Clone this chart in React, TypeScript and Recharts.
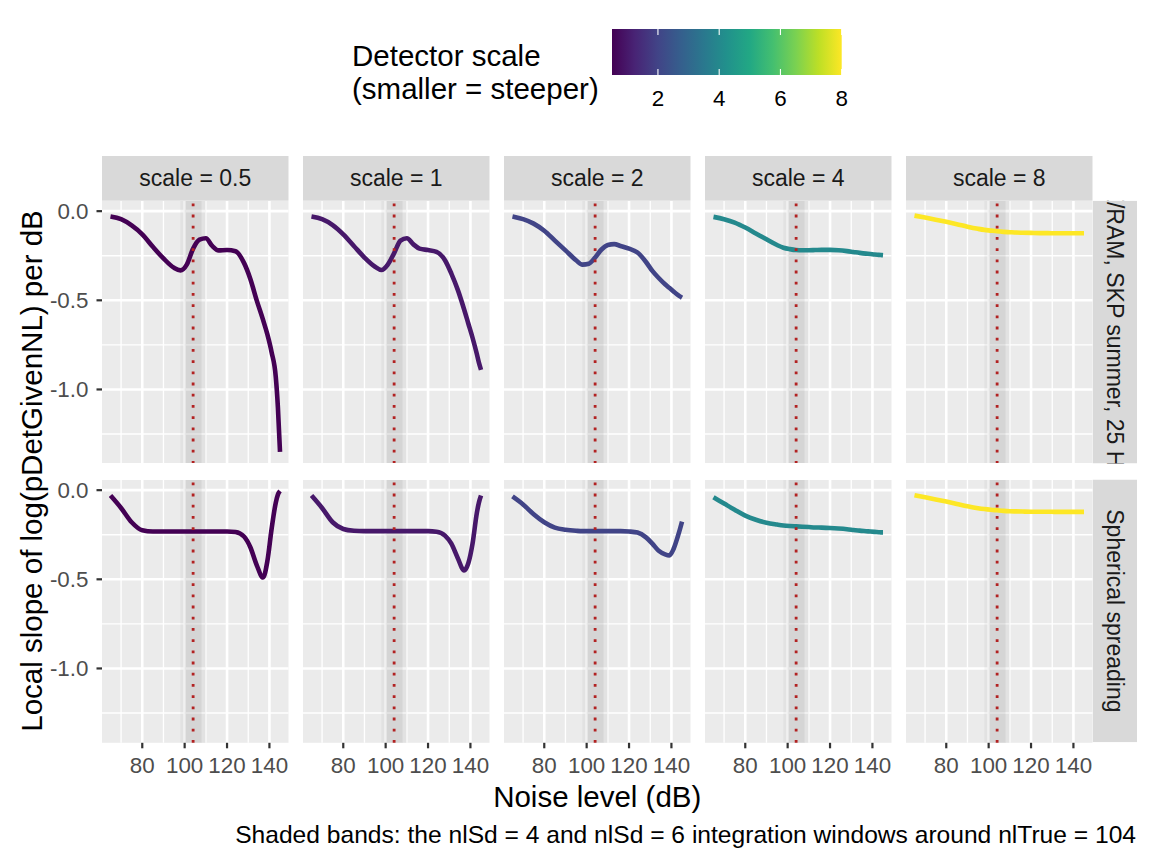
import React from 'react';
import { LineChart, Line, XAxis, YAxis, CartesianGrid, ReferenceArea, ReferenceLine } from 'recharts';

// ---------------- data ----------------
const NL = [65, 70, 75, 80, 85, 90, 95, 98, 101, 104, 107, 110, 113, 116, 120, 124, 128, 131, 134, 137, 139, 141, 143, 144, 145];

const SCALES = [0.5, 1, 2, 4, 8];
const SCALE_COLORS = ['#440154', '#47186A', '#414487', '#24898D', '#FDE725'];
const ROW_LABELS = ['PE/RAM, SKP summer, 25 Hz', 'Spherical spreading'];

const propScale05 = [-0.03, -0.045, -0.08, -0.13, -0.2, -0.265, -0.318, -0.332, -0.3, -0.21, -0.16, -0.152, -0.195, -0.22, -0.218, -0.225, -0.29, -0.38, -0.5, -0.61, -0.69, -0.79, -0.93, -1.1, -1.35];
const propScale1 = [-0.03, -0.045, -0.078, -0.13, -0.195, -0.26, -0.312, -0.33, -0.3, -0.235, -0.165, -0.152, -0.185, -0.21, -0.218, -0.228, -0.275, -0.35, -0.44, -0.55, -0.63, -0.71, -0.8, -0.85, -0.89];
const propScale2 = [-0.03, -0.045, -0.07, -0.11, -0.165, -0.22, -0.275, -0.3, -0.295, -0.26, -0.215, -0.19, -0.185, -0.195, -0.21, -0.232, -0.285, -0.335, -0.375, -0.41, -0.43, -0.45, -0.47, -0.478, -0.485];
const propScale4 = [-0.032, -0.045, -0.064, -0.092, -0.125, -0.158, -0.19, -0.205, -0.213, -0.218, -0.219, -0.219, -0.218, -0.217, -0.217, -0.219, -0.224, -0.229, -0.234, -0.238, -0.24, -0.243, -0.245, -0.246, -0.247];
const propScale8 = [-0.025, -0.036, -0.048, -0.06, -0.073, -0.087, -0.099, -0.105, -0.109, -0.113, -0.116, -0.118, -0.12, -0.121, -0.122, -0.123, -0.123, -0.124, -0.124, -0.124, -0.124, -0.124, -0.124, -0.124, -0.124];

const sphScale05 = [-0.03, -0.1, -0.18, -0.225, -0.232, -0.232, -0.232, -0.232, -0.232, -0.232, -0.232, -0.232, -0.232, -0.232, -0.232, -0.235, -0.26, -0.32, -0.42, -0.49, -0.4, -0.22, -0.07, -0.025, -0.005];
const sphScale1 = [-0.03, -0.1, -0.18, -0.218, -0.228, -0.23, -0.23, -0.23, -0.23, -0.23, -0.23, -0.23, -0.23, -0.23, -0.23, -0.233, -0.255, -0.3, -0.38, -0.45, -0.41, -0.3, -0.13, -0.07, -0.03];
const sphScale2 = [-0.035, -0.08, -0.135, -0.18, -0.21, -0.222, -0.228, -0.23, -0.23, -0.23, -0.23, -0.23, -0.23, -0.23, -0.232, -0.238, -0.265, -0.3, -0.34, -0.36, -0.366, -0.33, -0.26, -0.22, -0.177];
const sphScale4 = [-0.04, -0.075, -0.11, -0.143, -0.166, -0.183, -0.193, -0.198, -0.201, -0.203, -0.205, -0.207, -0.209, -0.21, -0.212, -0.215, -0.219, -0.223, -0.227, -0.23, -0.232, -0.234, -0.236, -0.237, -0.237];
const sphScale8 = [-0.028, -0.04, -0.052, -0.064, -0.077, -0.09, -0.101, -0.106, -0.11, -0.113, -0.116, -0.118, -0.119, -0.12, -0.121, -0.121, -0.121, -0.122, -0.122, -0.122, -0.122, -0.122, -0.122, -0.122, -0.122];

const SERIES = [
  [propScale05, propScale1, propScale2, propScale4, propScale8],
  [sphScale05, sphScale1, sphScale2, sphScale4, sphScale8],
];

const X_TICKS = [80, 100, 120, 140];
const X_MINOR = [70, 90, 110, 130];
const Y_TICKS = [-1, -0.5, 0];
const Y_MINOR = [-1.25, -0.75, -0.25];
const X_DOMAIN = [61, 149];
const Y_DOMAIN = [-1.417, 0.057];

const NL_TRUE = 104;
const NL_SD = [6, 4];

const LEGEND_TICKS = [2, 4, 6, 8];
const LEGEND_RANGE = [0.5, 8];
const VIRIDIS = ['#440154', '#482475', '#414487', '#355F8D', '#2A788E', '#21918C', '#22A884', '#44BF70', '#7AD151', '#BDDF26', '#FDE725'];

// ---------------- layout ----------------
const FONT = "'Liberation Sans', Arial, Helvetica, sans-serif";
const PANEL_X0 = 102;
const PANEL_W = 186.5;
const PANEL_GAP = 14.5;
const ROW_TOP = [200.7, 479.5];
const PANEL_H = 262.8;
const PAD_TOP = 14;
const Y_AXIS_W = 102;
const X_AXIS_H = 44;
const STRIP_TOP = 156;
const STRIP_W = 44.5;
const TICK_FS = 22.4;
const STRIP_FS = 23;
const TITLE_FS = 29.5;
const CAPTION_FS = 24.6;

const panelLeft = (c: number) => PANEL_X0 + c * (PANEL_W + PANEL_GAP);

function Panel({ r, c }: { r: number; c: number }) {
  const data = NL.map((nl, i) => ({ nl, slope: SERIES[r][c][i] }));
  const showY = c === 0;
  const showX = r === 1;
  const left = showY ? panelLeft(c) - Y_AXIS_W : panelLeft(c);
  const width = PANEL_W + (showY ? Y_AXIS_W : 0);
  const height = PAD_TOP + PANEL_H + (showX ? X_AXIS_H : 0);
  return (
    <div style={{ position: 'absolute', left, top: ROW_TOP[r] - PAD_TOP }}>
      <LineChart width={width} height={height} data={data} margin={{ top: PAD_TOP, right: 0, bottom: 0, left: 0 }}>
        <CartesianGrid fill="#EBEBEB" stroke="#FFFFFF" strokeWidth={1.3} horizontalValues={Y_MINOR} verticalValues={X_MINOR} />
        <CartesianGrid stroke="#FFFFFF" strokeWidth={2.6} horizontalValues={Y_TICKS} verticalValues={X_TICKS} />
        <XAxis
          type="number"
          dataKey="nl"
          domain={X_DOMAIN}
          ticks={X_TICKS}
          interval={0}
          allowDataOverflow
          hide={!showX}
          height={X_AXIS_H}
          axisLine={false}
          tickSize={5.5}
          tickMargin={9}
          tickLine={{ stroke: '#333333', strokeWidth: 2.2 }}
          tick={{ fill: '#4D4D4D', fontSize: TICK_FS, fontFamily: FONT }}
        />
        <YAxis
          type="number"
          domain={Y_DOMAIN}
          ticks={Y_TICKS}
          interval={0}
          allowDataOverflow
          hide={!showY}
          width={Y_AXIS_W}
          axisLine={false}
          tickSize={5.5}
          tickMargin={8}
          tickLine={{ stroke: '#333333', strokeWidth: 2.2 }}
          tickFormatter={(v: number) => v.toFixed(1)}
          tick={{ fill: '#4D4D4D', fontSize: TICK_FS, fontFamily: FONT }}
        />
        <Line
          type="monotone"
          dataKey="slope"
          stroke={SCALE_COLORS[c]}
          strokeWidth={4.6}
          dot={false}
          activeDot={false}
          isAnimationActive={false}
        />
        {NL_SD.map((sd) => (
          <ReferenceArea key={sd} x1={NL_TRUE - sd} x2={NL_TRUE + sd} fill="#7F7F7F" fillOpacity={sd === 6 ? 0.08 : 0.12} stroke="none" />
        ))}
        <ReferenceLine x={NL_TRUE} stroke="#B22222" strokeWidth={2.8} strokeDasharray="2.8 8.4" />
      </LineChart>
    </div>
  );
}

function Overlay() {
  const barX0 = 612;
  const barX1 = 841.7;
  const barY0 = 29;
  const barY1 = 75;
  const lx = (v: number) => barX0 + ((v - LEGEND_RANGE[0]) / (LEGEND_RANGE[1] - LEGEND_RANGE[0])) * (barX1 - barX0);
  const lastRight = panelLeft(4) + PANEL_W;
  return (
    <svg width={1152} height={864} style={{ position: 'absolute', left: 0, top: 0 }} fontFamily={FONT}>
      <defs>
        <linearGradient id="viridis" x1="0" x2="1" y1="0" y2="0">
          {VIRIDIS.map((col, i) => (
            <stop key={i} offset={i / (VIRIDIS.length - 1)} stopColor={col} />
          ))}
        </linearGradient>
        {ROW_TOP.map((t, r) => (
          <clipPath id={`rs${r}`} key={r}>
            <rect x={lastRight} y={t} width={STRIP_W} height={PANEL_H} />
          </clipPath>
        ))}
      </defs>
      {/* legend */}
      <text x={352} y={65.5} fontSize={TITLE_FS} fill="#000">Detector scale</text>
      <text x={352} y={98.5} fontSize={TITLE_FS} fill="#000">(smaller = steeper)</text>
      <rect x={barX0} y={barY0} width={barX1 - barX0} height={barY1 - barY0} fill="url(#viridis)" />
      {LEGEND_TICKS.map((t) => (
        <g key={t}>
          <line x1={lx(t)} x2={lx(t)} y1={barY0} y2={barY0 + 6} stroke="#FFFFFF" strokeWidth={1.1} />
          <line x1={lx(t)} x2={lx(t)} y1={barY1 - 6} y2={barY1} stroke="#FFFFFF" strokeWidth={1.1} />
          <text x={lx(t)} y={106} fontSize={TICK_FS} textAnchor="middle" fill="#000">{t}</text>
        </g>
      ))}
      {/* top strips */}
      {SCALES.map((s, c) => (
        <g key={s}>
          <rect x={panelLeft(c)} y={STRIP_TOP} width={PANEL_W} height={ROW_TOP[0] - STRIP_TOP} fill="#D9D9D9" />
          <text x={panelLeft(c) + PANEL_W / 2} y={186.3} fontSize={STRIP_FS} textAnchor="middle" fill="#1A1A1A">{`scale = ${s}`}</text>
        </g>
      ))}
      {/* right strips */}
      {ROW_LABELS.map((lab, r) => (
        <g key={r} clipPath={`url(#rs${r})`}>
          <rect x={lastRight} y={ROW_TOP[r]} width={STRIP_W} height={PANEL_H} fill="#D9D9D9" />
          <text
            transform={`translate(${lastRight + STRIP_W / 2 - 8.2}, ${ROW_TOP[r] + PANEL_H / 2 - (r === 0 ? 7 : 0)}) rotate(90)`}
            fontSize={STRIP_FS}
            textAnchor="middle"
            fill="#1A1A1A"
          >
            {lab}
          </text>
        </g>
      ))}
      {/* axis titles */}
      <text x={(PANEL_X0 + lastRight) / 2} y={807} fontSize={TITLE_FS} textAnchor="middle" fill="#000">Noise level (dB)</text>
      <text transform="translate(42, 471) rotate(-90)" fontSize={TITLE_FS} textAnchor="middle" fill="#000">Local slope of log(pDetGivenNL) per dB</text>
      {/* caption */}
      <text x={1136} y={843} fontSize={CAPTION_FS} textAnchor="end" fill="#000">Shaded bands: the nlSd = 4 and nlSd = 6 integration windows around nlTrue = 104</text>
    </svg>
  );
}

export default function App() {
  return (
    <div style={{ position: 'absolute', left: 0, top: 0, width: 1152, height: 864, background: '#FFFFFF', fontFamily: FONT, overflow: 'hidden' }}>
      <Overlay />
      {[0, 1].map((r) => [0, 1, 2, 3, 4].map((c) => <Panel key={`${r}-${c}`} r={r} c={c} />))}
    </div>
  );
}
